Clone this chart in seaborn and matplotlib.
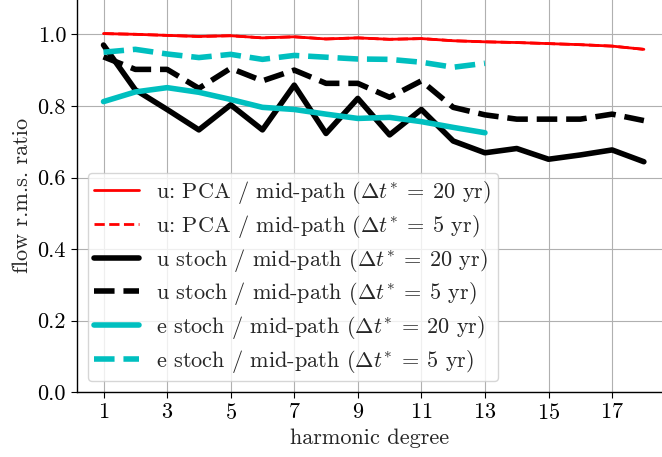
import numpy as np
import pandas as pd
import matplotlib
matplotlib.use("Agg")
import matplotlib.pyplot as plt
import seaborn as sns

degrees = list(range(1, 19))
u_pca_20 = [1.002, 1.000, 0.997, 0.994, 0.996, 0.990, 0.993, 0.987, 0.990, 0.986, 0.988, 0.982, 0.979, 0.977, 0.974, 0.971, 0.967, 0.958]
u_pca_5 = [1.002, 1.000, 0.997, 0.994, 0.996, 0.990, 0.993, 0.987, 0.990, 0.986, 0.988, 0.982, 0.979, 0.977, 0.974, 0.971, 0.967, 0.958]
u_stoch_20 = [0.970, 0.845, 0.790, 0.733, 0.803, 0.733, 0.858, 0.723, 0.821, 0.719, 0.790, 0.702, 0.669, 0.681, 0.651, 0.663, 0.677, 0.644]
u_stoch_5 = [0.937, 0.902, 0.902, 0.849, 0.905, 0.870, 0.900, 0.863, 0.863, 0.824, 0.870, 0.796, 0.775, 0.763, 0.763, 0.763, 0.777, 0.759]
degrees_e = list(range(1, 14))
e_stoch_20 = [0.812, 0.839, 0.851, 0.838, 0.818, 0.796, 0.790, 0.777, 0.765, 0.768, 0.756, 0.740, 0.725]
e_stoch_5 = [0.950, 0.958, 0.945, 0.935, 0.944, 0.930, 0.941, 0.936, 0.931, 0.930, 0.922, 0.908, 0.919]

labels = [
    r"u: PCA / mid-path ($\Delta t^{*}\:=\:20$ yr)",
    r"u: PCA / mid-path ($\Delta t^{*}\:=\:5$ yr)",
    r"u stoch / mid-path ($\Delta t^{*}\:=\:20$ yr)",
    r"u stoch / mid-path ($\Delta t^{*}\:=\:5$ yr)",
    r"e stoch / mid-path ($\Delta t^{*}\:=\:20$ yr)",
    r"e stoch / mid-path ($\Delta t^{*}\:=\:5$ yr)",
]

sns.set_style("whitegrid")
plt.rcParams["font.family"] = ["serif"]
plt.rcParams["font.serif"] = ["cmr10", "DejaVu Serif"]
plt.rcParams["mathtext.fontset"] = "cm"
plt.rcParams["axes.formatter.use_mathtext"] = True

fig = plt.figure(figsize=(6.62, 4.57), dpi=100)
ax = fig.add_axes([76.5 / 662, (457 - 392.3) / 457, (662 - 76.5) / 662, (392.3 + 1.5) / 457])

series = [
    (degrees, u_pca_20, "red", "-", 2),
    (degrees, u_pca_5, "red", "--", 2),
    (degrees, u_stoch_20, "black", "-", 4),
    (degrees, u_stoch_5, "black", "--", 4),
    (degrees_e, e_stoch_20, "#00BFBF", "-", 4),
    (degrees_e, e_stoch_5, "#00BFBF", "--", 4),
]
for (xs, ys, c, ls, lw), lab in zip(series, labels):
    df = pd.DataFrame({"x": xs, "y": ys})
    sns.lineplot(data=df, x="x", y="y", ax=ax, color=c, linestyle=ls, linewidth=lw, label=lab)

ax.set_xlim(0.15, 18.57)
ax.set_ylim(0, 1.1)
ax.set_xticks(list(range(1, 18, 2)))
ax.set_yticks([0.0, 0.2, 0.4, 0.6, 0.8, 1.0])
ax.set_yticklabels(["0.0", "0.2", "0.4", "0.6", "0.8", "1.0"])
ax.tick_params(axis="both", labelsize=16, direction="out", length=4, width=0.8, colors="black", left=True, bottom=True)
ax.set_xlabel("harmonic degree", fontsize=16)
ax.set_ylabel("flow r.m.s. ratio", fontsize=16)
ax.grid(True, color="#b0b0b0", linewidth=0.8)
sns.despine(ax=ax)
for s in ["left", "bottom"]:
    ax.spines[s].set_color("black")
    ax.spines[s].set_linewidth(1.0)
ax.legend(loc="lower left", fontsize=16, frameon=True, labelspacing=0.3, borderpad=0.3)

fig.savefig("out.png", dpi=100)
